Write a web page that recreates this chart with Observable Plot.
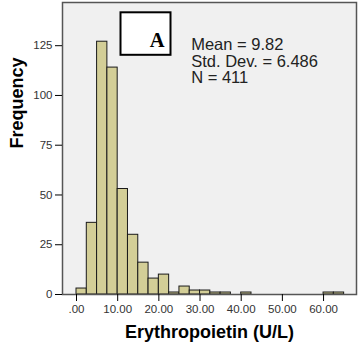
<!DOCTYPE html>
<html>
<head>
<meta charset="utf-8">
<script src="https://cdn.jsdelivr.net/npm/d3@7"></script>
<script src="https://cdn.jsdelivr.net/npm/@observablehq/plot@0.6"></script>
<style>
  html, body { margin: 0; padding: 0; background: #ffffff; }
  #chart svg { display: block; }
</style>
</head>
<body>
<div id="chart"></div>
<script>
// Histogram bins (U/L) and counts
const binLow  = [0, 2.5, 5, 7.5, 10, 12.5, 15, 17.5, 20, 22.5, 25, 27.5, 30, 32.5, 35, 40, 60, 62.5];
const binHigh = [2.5, 5, 7.5, 10, 12.5, 15, 17.5, 20, 22.5, 25, 27.5, 30, 32.5, 35, 37.5, 42.5, 62.5, 65];
const counts  = [3, 36, 127, 114, 53, 30, 16, 8, 10, 1, 4, 2, 2, 1, 1, 1, 1, 1];

const xTicks = [0, 10, 20, 30, 40, 50, 60];
const xTickLabels = [".00", "10.00", "20.00", "30.00", "40.00", "50.00", "60.00"];
const yTicks = [0, 25, 50, 75, 100, 125];

const xTitle = "Erythropoietin (U/L)";
const yTitle = "Frequency";
const statsLines = ["Mean = 9.82", "Std. Dev. = 6.486", "N = 411"];
const panelLabel = "A";

const bins = binLow.map((lo, i) => ({lo, hi: binHigh[i], count: counts[i]}));

const boxMark = (index, scales, values, dims) => {
  return d3.create("svg:rect")
    .attr("x", dims.marginLeft + 58.5)
    .attr("y", dims.marginTop + 10.3)
    .attr("width", 50)
    .attr("height", 42.5)
    .attr("fill", "#ffffff")
    .attr("stroke", "#000000")
    .attr("stroke-width", 2)
    .node();
};

const chart = Plot.plot({
  width: 358,
  height: 348,
  marginLeft: 62,
  marginRight: 2,
  marginTop: 2,
  marginBottom: 54,
  style: {fontFamily: "'Liberation Sans', Arial, sans-serif", background: "#ffffff"},
  x: {domain: [-3.4, 68]},
  y: {domain: [0, 146.7]},
  marks: [
    Plot.frame({fill: "#f0f0f0", stroke: null}),
    Plot.rectY(bins, {x1: "lo", x2: "hi", y: "count", fill: "#d3ce97", stroke: "#1a1a1a", strokeWidth: 1}),
    Plot.ruleY([0], {stroke: "#000", strokeWidth: 1.2}),
    Plot.frame({stroke: "#555555", strokeWidth: 1.5}),
    Plot.axisX({ticks: xTicks, tickFormat: d => xTickLabels[xTicks.indexOf(d)], tickSize: 7, tickPadding: 3, fontSize: 11.5, label: null, stroke: "#000", fill: "#333"}),
    Plot.axisY({ticks: yTicks, tickSize: 7, tickPadding: 3, fontSize: 11.5, label: null, stroke: "#000", fill: "#333"}),
    Plot.text([yTitle], {frameAnchor: "left", text: d => d, rotate: -90, dx: -45, fontSize: 18, fontWeight: "bold", fill: "#000"}),
    Plot.text([xTitle], {frameAnchor: "bottom", text: d => d, dy: 43, fontSize: 18, fontWeight: "bold", fill: "#000"}),
    boxMark,
    Plot.text([panelLabel], {frameAnchor: "top-left", text: d => d, dx: 87.3, dy: 29.5, lineAnchor: "top", fontSize: 20.5, fontWeight: "bold", fontFamily: "'Liberation Serif', 'Times New Roman', serif", fill: "#000"}),
    Plot.text([statsLines.join("\n")], {frameAnchor: "top-left", text: d => d, dx: 128.7, dy: 35.6, textAnchor: "start", lineAnchor: "top", lineHeight: 1.01, fontSize: 16.5, fill: "#222"})
  ]
});

document.getElementById("chart").appendChild(chart);
</script>
</body>
</html>
